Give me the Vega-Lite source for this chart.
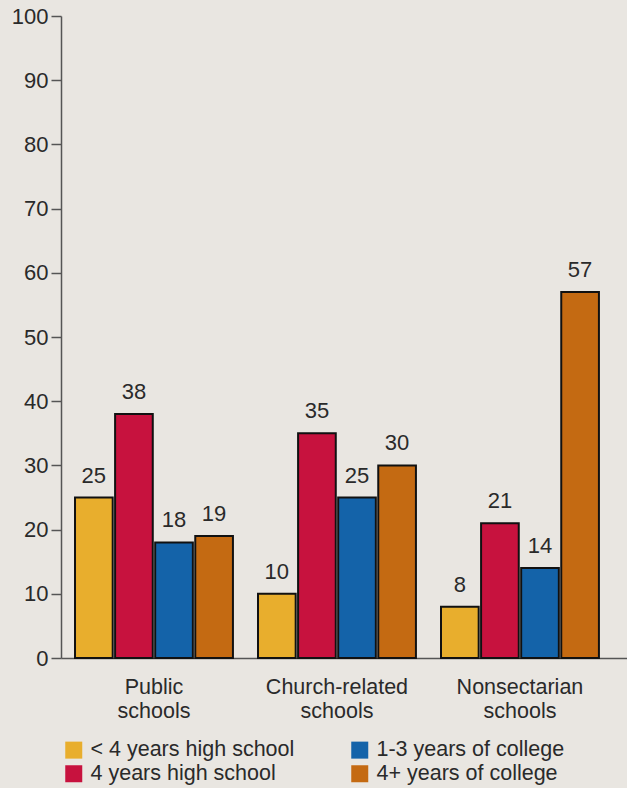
{
  "$schema": "https://vega.github.io/schema/vega-lite/v6.json",
  "autosize": {"type": "none"},
  "padding": {"left": 61, "top": 16, "right": 0, "bottom": 130},
  "width": 566,
  "height": 642,
  "background": "#E9E6E1",
  "config": {
    "view": {"stroke": null},
    "font": "Liberation Sans"
  },
  "data": {
    "values": [
      {"school": "Public schools", "education": "< 4 years high school", "percent": 25},
      {"school": "Public schools", "education": "4 years high school", "percent": 38},
      {"school": "Public schools", "education": "1-3 years of college", "percent": 18},
      {"school": "Public schools", "education": "4+ years of college", "percent": 19},
      {"school": "Church-related schools", "education": "< 4 years high school", "percent": 10},
      {"school": "Church-related schools", "education": "4 years high school", "percent": 35},
      {"school": "Church-related schools", "education": "1-3 years of college", "percent": 25},
      {"school": "Church-related schools", "education": "4+ years of college", "percent": 30},
      {"school": "Nonsectarian schools", "education": "< 4 years high school", "percent": 8},
      {"school": "Nonsectarian schools", "education": "4 years high school", "percent": 21},
      {"school": "Nonsectarian schools", "education": "1-3 years of college", "percent": 14},
      {"school": "Nonsectarian schools", "education": "4+ years of college", "percent": 57}
    ]
  },
  "encoding": {
    "x": {
      "field": "school",
      "type": "nominal",
      "sort": ["Public schools", "Church-related schools", "Nonsectarian schools"],
      "scale": {"paddingInner": 0.137, "paddingOuter": 0.115, "align": 0.333},
      "axis": {
        "title": null,
        "labelAngle": 0,
        "ticks": false,
        "domainColor": "#555",
        "domainWidth": 1.5,
        "labelExpr": "split(datum.label, ' ')",
        "labelFontSize": 21.5,
        "labelLineHeight": 24,
        "labelPadding": 18,
        "labelColor": "#2a2a2a"
      }
    },
    "xOffset": {
      "field": "education",
      "type": "nominal",
      "sort": ["< 4 years high school", "4 years high school", "1-3 years of college", "4+ years of college"],
      "scale": {"paddingInner": 0.06}
    },
    "y": {
      "field": "percent",
      "type": "quantitative",
      "scale": {"domain": [0, 100], "nice": false},
      "axis": {
        "title": null,
        "values": [0, 10, 20, 30, 40, 50, 60, 70, 80, 90, 100],
        "grid": false,
        "domainColor": "#555",
        "domainWidth": 1.5,
        "tickColor": "#555",
        "tickWidth": 1.5,
        "tickSize": 10,
        "labelFontSize": 22,
        "labelPadding": 3,
        "labelColor": "#2a2a2a"
      }
    }
  },
  "layer": [
    {
      "mark": {"type": "bar", "stroke": "#111", "strokeWidth": 2},
      "encoding": {
        "color": {
          "field": "education",
          "type": "nominal",
          "scale": {
            "domain": ["< 4 years high school", "4 years high school", "1-3 years of college", "4+ years of college"],
            "range": ["#E8AE2D", "#C7123E", "#1463A9", "#C46A12"]
          },
          "legend": {
            "title": null,
            "orient": "none",
            "legendX": 2,
            "legendY": 723,
            "direction": "vertical",
            "columns": 2,
            "columnPadding": 54,
            "rowPadding": 1,
            "symbolType": "square",
            "symbolSize": 289,
            "symbolStrokeWidth": 0,
            "symbolOpacity": 1,
            "labelFontSize": 21.5,
            "labelLimit": 400,
            "labelColor": "#2a2a2a",
            "labelOffset": 6
          }
        }
      }
    },
    {
      "mark": {"type": "text", "baseline": "bottom", "dy": -10, "fontSize": 22, "fill": "#2a2a2a"},
      "encoding": {
        "text": {"field": "percent", "type": "quantitative"}
      }
    }
  ]
}
